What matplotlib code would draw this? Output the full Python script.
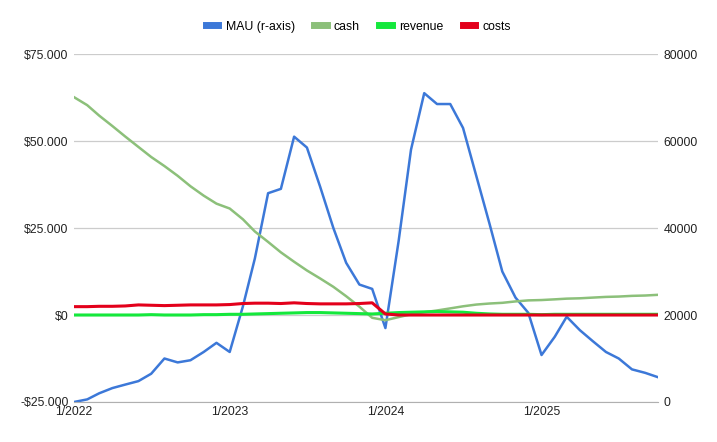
#!/usr/bin/env python3
# -*- coding: utf-8 -*-
"""
MAU / cash / revenue / costs, monthly 1/2022 - 10/2025
left axis = money, right axis = MAU
"""
import pandas as pd
import matplotlib.pyplot as plt
import matplotlib.ticker as mticker

plt.rcParams['font.family'] = ['Liberation Sans', 'DejaVu Sans']

# monthly values
months = pd.date_range('2022-01-01', '2025-10-01', freq='MS')

mau = [0, 600, 2000, 3200, 4000, 4800, 6500, 10000, 9100, 9600, 11500, 13600,
       11500, 22000, 33000, 48000, 49000, 61000, 58500, 49500, 40000, 32000, 27000, 26000,
       17000, 37000, 58000, 71000, 68500, 68500, 63000, 52000, 41000, 30000, 24000, 20500,
       10800, 15000, 19600, 16500, 14000, 11500, 10000, 7500, 6700, 5700]

cash = [62600, 60300, 57300, 54300, 51300, 48300, 45400, 42800, 40000, 37000, 34300, 32000,
        30600, 27500, 24000, 21000, 18000, 15300, 12800, 10500, 8100, 5400, 2400, -800,
        -1500, -600, 200, 800, 1300, 1900, 2500, 3000, 3300, 3500, 3900, 4200,
        4300, 4500, 4700, 4800, 5000, 5200, 5300, 5500, 5600, 5800]

revenue = [0, 0, 0, 0, 0, 0, 100, 0, 0, 0, 100, 100,
           200, 200, 300, 400, 500, 600, 700, 700, 600, 500, 400, 300,
           500, 700, 800, 900, 1000, 900, 800, 500, 300, 200, 200, 200,
           100, 200, 200, 200, 200, 200, 200, 200, 200, 200]

costs = [2400, 2400, 2500, 2500, 2600, 2900, 2800, 2700, 2800, 2900, 2900, 2900,
         3000, 3300, 3400, 3400, 3300, 3500, 3300, 3200, 3200, 3200, 3300, 3500,
         300, 0, 0, 0, 0, 0, 0, 0, 0, 0, 0, 0,
         0, 0, 0, 0, 0, 0, 0, 0, 0, 0]

money_ticks = [-25000, 0, 25000, 50000, 75000]
money_labels = ['-$25.000', '$0', '$25.000', '$50.000', '$75.000']
mau_ticks = [0, 20000, 40000, 60000, 80000]
year_ticks = pd.to_datetime(['2022-01-01', '2023-01-01', '2024-01-01', '2025-01-01'])
year_labels = ['1/2022', '1/2023', '1/2024', '1/2025']

C_MAU = '#3c78d8'
C_CASH = '#8cc07a'
C_REV = '#14e83c'
C_COST = '#e3001b'


def main():
    fig = plt.figure(figsize=(7.17, 4.42), dpi=100)
    ax = fig.add_axes([0.1032, 0.0905, 0.8145, 0.7873])
    ax2 = ax.twinx()

    # MAU on right axis, drawn below the money lines
    ax.set_zorder(ax2.get_zorder() + 1)
    ax.patch.set_visible(False)

    l_mau, = ax2.plot(months, mau, color=C_MAU, lw=1.8, solid_joinstyle='round')
    l_cash, = ax.plot(months, cash, color=C_CASH, lw=1.8, solid_joinstyle='round')
    l_rev, = ax.plot(months, revenue, color=C_REV, lw=2.2, solid_joinstyle='round')
    l_cost, = ax.plot(months, costs, color=C_COST, lw=2.2, solid_joinstyle='round')

    ax.set_xlim(months[0], months[-1])
    ax.set_ylim(-25000, 75000)
    ax2.set_ylim(0, 80000)

    ax.set_yticks(money_ticks)
    ax.set_yticklabels(money_labels)
    ax2.set_yticks(mau_ticks)
    ax2.yaxis.set_major_formatter(mticker.FuncFormatter(lambda v, p: f'{int(v)}'))
    ax.set_xticks(year_ticks)
    ax.set_xticklabels(year_labels)

    ax2.grid(True, axis='y', color='#cccccc', lw=0.9)
    ax2.grid(True, axis='x', color='#cccccc', lw=0.9)
    ax2.set_xticks(year_ticks)

    for a in (ax, ax2):
        for s in a.spines.values():
            s.set_visible(False)
        a.tick_params(length=0, labelsize=8.8, colors='#222222', pad=4)
    ax2.spines['bottom'].set_visible(True)
    ax2.spines['bottom'].set_color('#b0b0b0')
    ax.tick_params(axis='x', pad=3)

    fig.legend([l_mau, l_cash, l_rev, l_cost],
               ['MAU (r-axis)', 'cash', 'revenue', 'costs'],
               loc='center', bbox_to_anchor=(0.5, 0.94), ncol=4, frameon=False,
               fontsize=8.8, handlelength=1.0, handletextpad=0.6, columnspacing=1.6)
    for h in fig.legends[0].legend_handles:
        h.set_linewidth(5)

    fig.savefig('out.png', dpi=100)


if __name__ == '__main__':
    main()
